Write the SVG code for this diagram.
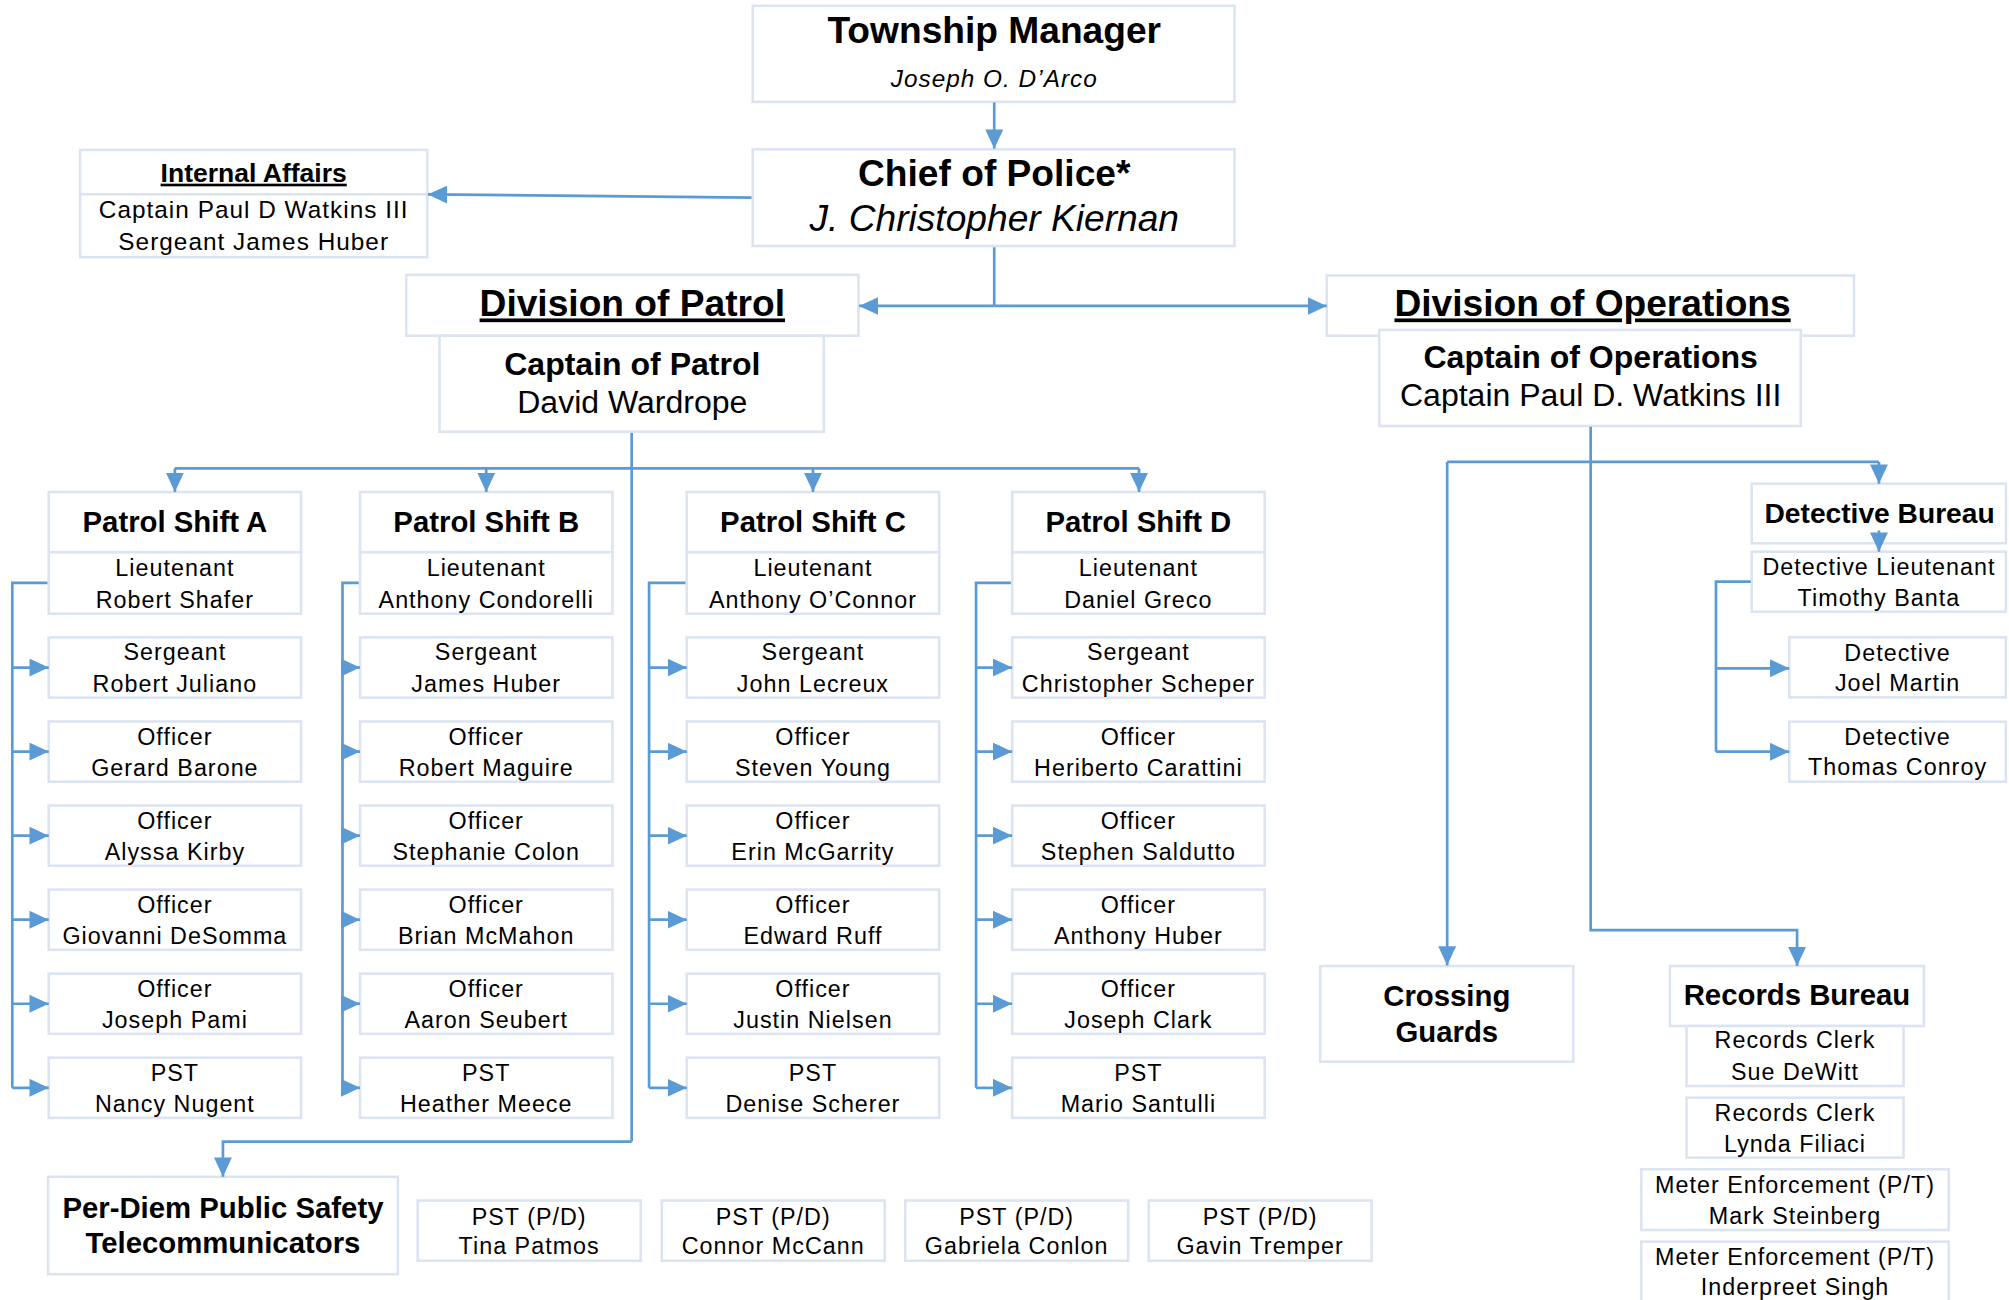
<svg xmlns="http://www.w3.org/2000/svg" width="2009" height="1300" viewBox="0 0 2009 1300">
<style>
.box{fill:#fff;stroke:#dce4f1;stroke-width:2}
.ln{fill:none;stroke:#5b9bd5;stroke-width:2.1}
.ar{marker-end:url(#ah)}
text{font-family:"Liberation Sans",Arial,sans-serif;fill:#000;text-anchor:middle}
.r{font-size:18.2px;letter-spacing:0.8px}
.r19{font-size:19px;letter-spacing:0.8px}
.r25{font-size:25px}
.b22{font-size:22.9px;font-weight:bold}
.b22s{font-size:22px;font-weight:bold}
.b25{font-size:25px;font-weight:bold}
.b29{font-size:29px;font-weight:bold}
.i19{font-size:19px;font-style:italic;letter-spacing:0.8px}
.i29{font-size:29px;font-style:italic}
.u{text-decoration:underline}
.b21{font-size:20.7px;font-weight:bold}
</style>
<defs>
<marker id="ah" markerUnits="userSpaceOnUse" markerWidth="15" markerHeight="14" viewBox="0 0 15 14" refX="15" refY="7" orient="auto">
<path d="M0,0 L15,7 L0,14 z" fill="#5b9bd5"/>
</marker>
</defs>
<rect x="0" y="0" width="2009" height="1300" fill="#fff"/>
<g transform="scale(1.28125)">

<g id="township-manager">
<rect class="box" x="587.5" y="4.5" width="376" height="75"/>
<text class="b29" x="776" y="33.3">Township Manager</text>
<text class="i19" x="776" y="68.2">Joseph O. D’Arco</text>
</g>
<g id="chief">
<rect class="box" x="587.5" y="116.5" width="376" height="75.5"/>
<text class="b29" x="776" y="145">Chief of Police*</text>
<text class="i29" x="776" y="180">J. Christopher Kiernan</text>
</g>
<g id="internal-affairs">
<rect class="box" x="62.5" y="117" width="271" height="34.7"/>
<rect class="box" x="62.5" y="151.7" width="271" height="49"/>
<text class="b21 u" x="198" y="141.8">Internal Affairs</text>
<text class="r19" x="198" y="170.4">Captain Paul D Watkins III</text>
<text class="r19" x="198" y="195.1">Sergeant James Huber</text>
</g>
<g id="division-patrol">
<rect class="box" x="317" y="214.5" width="353" height="47.5"/>
<text class="b29 u" x="493.5" y="247">Division of Patrol</text>
</g>
<g id="captain-patrol">
<rect class="box" x="343" y="262" width="300" height="75"/>
<text class="b25" x="493.5" y="292.7">Captain of Patrol</text>
<text class="r25" x="493.5" y="322.6">David Wardrope</text>
</g>
<g id="division-operations">
<rect class="box" x="1035.5" y="215" width="411.5" height="47"/>
<text class="b29 u" x="1243" y="247">Division of Operations</text>
</g>
<g id="captain-operations">
<rect class="box" x="1076.5" y="257.5" width="329" height="75"/>
<text class="b25" x="1241.5" y="287.5">Captain of Operations</text>
<text class="r25" x="1241.5" y="316.9">Captain Paul D. Watkins III</text>
</g>

<g id="shift-a">
<rect class="box" x="38" y="384" width="197" height="47"/>
<text class="b22" x="136.5" y="415">Patrol Shift A</text>
<rect class="box" x="38" y="431" width="197" height="48"/>
<text class="r" x="136.5" y="449.3">Lieutenant</text><text class="r" x="136.5" y="474.8">Robert Shafer</text>
<rect class="box" x="38" y="497.5" width="197" height="47"/>
<text class="r" x="136.5" y="515.5">Sergeant</text><text class="r" x="136.5" y="540">Robert Juliano</text>
<rect class="box" x="38" y="563.1" width="197" height="47"/>
<text class="r" x="136.5" y="581.1">Officer</text><text class="r" x="136.5" y="605.6">Gerard Barone</text>
<rect class="box" x="38" y="628.7" width="197" height="47"/>
<text class="r" x="136.5" y="646.7">Officer</text><text class="r" x="136.5" y="671.2">Alyssa Kirby</text>
<rect class="box" x="38" y="694.3" width="197" height="47"/>
<text class="r" x="136.5" y="712.3">Officer</text><text class="r" x="136.5" y="736.8">Giovanni DeSomma</text>
<rect class="box" x="38" y="759.9" width="197" height="47"/>
<text class="r" x="136.5" y="777.9">Officer</text><text class="r" x="136.5" y="802.4">Joseph Pami</text>
<rect class="box" x="38" y="825.5" width="197" height="47"/>
<text class="r" x="136.5" y="843.5">PST</text><text class="r" x="136.5" y="868">Nancy Nugent</text>
</g>

<g id="shift-b">
<rect class="box" x="281" y="384" width="197" height="47"/>
<text class="b22" x="379.5" y="415">Patrol Shift B</text>
<rect class="box" x="281" y="431" width="197" height="48"/>
<text class="r" x="379.5" y="449.3">Lieutenant</text><text class="r" x="379.5" y="474.8">Anthony Condorelli</text>
<rect class="box" x="281" y="497.5" width="197" height="47"/>
<text class="r" x="379.5" y="515.5">Sergeant</text><text class="r" x="379.5" y="540">James Huber</text>
<rect class="box" x="281" y="563.1" width="197" height="47"/>
<text class="r" x="379.5" y="581.1">Officer</text><text class="r" x="379.5" y="605.6">Robert Maguire</text>
<rect class="box" x="281" y="628.7" width="197" height="47"/>
<text class="r" x="379.5" y="646.7">Officer</text><text class="r" x="379.5" y="671.2">Stephanie Colon</text>
<rect class="box" x="281" y="694.3" width="197" height="47"/>
<text class="r" x="379.5" y="712.3">Officer</text><text class="r" x="379.5" y="736.8">Brian McMahon</text>
<rect class="box" x="281" y="759.9" width="197" height="47"/>
<text class="r" x="379.5" y="777.9">Officer</text><text class="r" x="379.5" y="802.4">Aaron Seubert</text>
<rect class="box" x="281" y="825.5" width="197" height="47"/>
<text class="r" x="379.5" y="843.5">PST</text><text class="r" x="379.5" y="868">Heather Meece</text>
</g>

<g id="shift-c">
<rect class="box" x="536" y="384" width="197" height="47"/>
<text class="b22" x="634.5" y="415">Patrol Shift C</text>
<rect class="box" x="536" y="431" width="197" height="48"/>
<text class="r" x="634.5" y="449.3">Lieutenant</text><text class="r" x="634.5" y="474.8">Anthony O’Connor</text>
<rect class="box" x="536" y="497.5" width="197" height="47"/>
<text class="r" x="634.5" y="515.5">Sergeant</text><text class="r" x="634.5" y="540">John Lecreux</text>
<rect class="box" x="536" y="563.1" width="197" height="47"/>
<text class="r" x="634.5" y="581.1">Officer</text><text class="r" x="634.5" y="605.6">Steven Young</text>
<rect class="box" x="536" y="628.7" width="197" height="47"/>
<text class="r" x="634.5" y="646.7">Officer</text><text class="r" x="634.5" y="671.2">Erin McGarrity</text>
<rect class="box" x="536" y="694.3" width="197" height="47"/>
<text class="r" x="634.5" y="712.3">Officer</text><text class="r" x="634.5" y="736.8">Edward Ruff</text>
<rect class="box" x="536" y="759.9" width="197" height="47"/>
<text class="r" x="634.5" y="777.9">Officer</text><text class="r" x="634.5" y="802.4">Justin Nielsen</text>
<rect class="box" x="536" y="825.5" width="197" height="47"/>
<text class="r" x="634.5" y="843.5">PST</text><text class="r" x="634.5" y="868">Denise Scherer</text>
</g>

<g id="shift-d">
<rect class="box" x="790" y="384" width="197" height="47"/>
<text class="b22" x="888.5" y="415">Patrol Shift D</text>
<rect class="box" x="790" y="431" width="197" height="48"/>
<text class="r" x="888.5" y="449.3">Lieutenant</text><text class="r" x="888.5" y="474.8">Daniel Greco</text>
<rect class="box" x="790" y="497.5" width="197" height="47"/>
<text class="r" x="888.5" y="515.5">Sergeant</text><text class="r" x="888.5" y="540">Christopher Scheper</text>
<rect class="box" x="790" y="563.1" width="197" height="47"/>
<text class="r" x="888.5" y="581.1">Officer</text><text class="r" x="888.5" y="605.6">Heriberto Carattini</text>
<rect class="box" x="790" y="628.7" width="197" height="47"/>
<text class="r" x="888.5" y="646.7">Officer</text><text class="r" x="888.5" y="671.2">Stephen Saldutto</text>
<rect class="box" x="790" y="694.3" width="197" height="47"/>
<text class="r" x="888.5" y="712.3">Officer</text><text class="r" x="888.5" y="736.8">Anthony Huber</text>
<rect class="box" x="790" y="759.9" width="197" height="47"/>
<text class="r" x="888.5" y="777.9">Officer</text><text class="r" x="888.5" y="802.4">Joseph Clark</text>
<rect class="box" x="790" y="825.5" width="197" height="47"/>
<text class="r" x="888.5" y="843.5">PST</text><text class="r" x="888.5" y="868">Mario Santulli</text>
</g>

<g id="per-diem">
<rect class="box" x="37.5" y="918.5" width="273" height="76"/>
<text class="b22" x="174" y="950.7">Per-Diem Public Safety</text>
<text class="b22" x="174" y="978">Telecommunicators</text>
</g>
<g id="pd-patmos">
<rect class="box" x="326" y="937" width="174" height="47"/>
<text class="r" x="413" y="956">PST (P/D)</text><text class="r" x="413" y="978.5">Tina Patmos</text>
</g>
<g id="pd-mccann">
<rect class="box" x="516.5" y="937" width="174" height="47"/>
<text class="r" x="603.5" y="956">PST (P/D)</text><text class="r" x="603.5" y="978.5">Connor McCann</text>
</g>
<g id="pd-conlon">
<rect class="box" x="706.5" y="937" width="174" height="47"/>
<text class="r" x="793.5" y="956">PST (P/D)</text><text class="r" x="793.5" y="978.5">Gabriela Conlon</text>
</g>
<g id="pd-tremper">
<rect class="box" x="896.5" y="937" width="174" height="47"/>
<text class="r" x="983.5" y="956">PST (P/D)</text><text class="r" x="983.5" y="978.5">Gavin Tremper</text>
</g>

<g id="detective-bureau">
<rect class="box" x="1367.2" y="377.5" width="198.4" height="46.5"/>
<text class="b22s" x="1467" y="408">Detective Bureau</text>
</g>
<g id="detective-lieutenant">
<rect class="box" x="1367.2" y="430.6" width="198.4" height="46.8"/>
<text class="r" x="1466.5" y="448.8">Detective Lieutenant</text>
<text class="r" x="1466.5" y="472.7">Timothy Banta</text>
</g>
<g id="detective-martin">
<rect class="box" x="1396.5" y="497.4" width="169" height="46.9"/>
<text class="r" x="1481" y="515.6">Detective</text>
<text class="r" x="1481" y="539.1">Joel Martin</text>
</g>
<g id="detective-conroy">
<rect class="box" x="1396.5" y="563.3" width="169" height="46.8"/>
<text class="r" x="1481" y="581.5">Detective</text>
<text class="r" x="1481" y="604.9">Thomas Conroy</text>
</g>

<g id="crossing-guards">
<rect class="box" x="1030.4" y="754" width="197.6" height="74.6"/>
<text class="b22" x="1129.2" y="785.2">Crossing</text>
<text class="b22" x="1129.2" y="813">Guards</text>
</g>
<g id="records-bureau">
<rect class="box" x="1303.3" y="754" width="198.3" height="46.8"/>
<text class="b22" x="1402.5" y="784.4">Records Bureau</text>
</g>
<g id="records-dewitt">
<rect class="box" x="1316.3" y="800.8" width="169.4" height="46.8"/>
<text class="r" x="1401" y="818.2">Records Clerk</text>
<text class="r" x="1401" y="843.2">Sue DeWitt</text>
</g>
<g id="records-filiaci">
<rect class="box" x="1316.3" y="856.7" width="169.4" height="46.8"/>
<text class="r" x="1401" y="875">Records Clerk</text>
<text class="r" x="1401" y="899">Lynda Filiaci</text>
</g>
<g id="meter-steinberg">
<rect class="box" x="1281" y="912.6" width="240" height="47.4"/>
<text class="r" x="1401" y="931.4">Meter Enforcement (P/T)</text>
<text class="r" x="1401" y="955.3">Mark Steinberg</text>
</g>
<g id="meter-singh">
<rect class="box" x="1281" y="969.1" width="240" height="60"/>
<text class="r" x="1401" y="987.3">Meter Enforcement (P/T)</text>
<text class="r" x="1401" y="1010.7">Inderpreet Singh</text>
</g>

<g id="connectors">
<line class="ln ar" x1="776" y1="80" x2="776" y2="116"/>
<line class="ln ar" x1="586.5" y1="154.3" x2="334" y2="151.7"/>
<line class="ln" x1="776" y1="193" x2="776" y2="238.8"/>
<line class="ln ar" x1="776" y1="238.8" x2="670.5" y2="238.8"/>
<line class="ln ar" x1="776" y1="238.8" x2="1035.5" y2="238.8"/>
<line class="ln" x1="493" y1="338" x2="493" y2="891"/>
<polyline class="ln ar" points="493,891 174,891 174,918.4"/>
<line class="ln" x1="136.5" y1="365.5" x2="889" y2="365.5"/>
<line class="ln ar" x1="136.5" y1="365.5" x2="136.5" y2="384"/>
<line class="ln ar" x1="379.5" y1="365.5" x2="379.5" y2="384"/>
<line class="ln ar" x1="634.5" y1="365.5" x2="634.5" y2="384"/>
<line class="ln ar" x1="889" y1="365.5" x2="889" y2="384"/>
<polyline class="ln" points="37,455 9.6,455 9.6,849"/>
<line class="ln ar" x1="9.6" y1="521" x2="38" y2="521"/>
<line class="ln ar" x1="9.6" y1="586.6" x2="38" y2="586.6"/>
<line class="ln ar" x1="9.6" y1="652.2" x2="38" y2="652.2"/>
<line class="ln ar" x1="9.6" y1="717.8" x2="38" y2="717.8"/>
<line class="ln ar" x1="9.6" y1="783.4" x2="38" y2="783.4"/>
<line class="ln ar" x1="9.6" y1="849" x2="38" y2="849"/>
<polyline class="ln" points="280,455 267.3,455 267.3,849"/>
<line class="ln ar" x1="267.3" y1="521" x2="281" y2="521"/>
<line class="ln ar" x1="267.3" y1="586.6" x2="281" y2="586.6"/>
<line class="ln ar" x1="267.3" y1="652.2" x2="281" y2="652.2"/>
<line class="ln ar" x1="267.3" y1="717.8" x2="281" y2="717.8"/>
<line class="ln ar" x1="267.3" y1="783.4" x2="281" y2="783.4"/>
<line class="ln ar" x1="267.3" y1="849" x2="281" y2="849"/>
<polyline class="ln" points="535,455 506.6,455 506.6,849"/>
<line class="ln ar" x1="506.6" y1="521" x2="536" y2="521"/>
<line class="ln ar" x1="506.6" y1="586.6" x2="536" y2="586.6"/>
<line class="ln ar" x1="506.6" y1="652.2" x2="536" y2="652.2"/>
<line class="ln ar" x1="506.6" y1="717.8" x2="536" y2="717.8"/>
<line class="ln ar" x1="506.6" y1="783.4" x2="536" y2="783.4"/>
<line class="ln ar" x1="506.6" y1="849" x2="536" y2="849"/>
<polyline class="ln" points="789,455 761.8,455 761.8,849"/>
<line class="ln ar" x1="761.8" y1="521" x2="790" y2="521"/>
<line class="ln ar" x1="761.8" y1="586.6" x2="790" y2="586.6"/>
<line class="ln ar" x1="761.8" y1="652.2" x2="790" y2="652.2"/>
<line class="ln ar" x1="761.8" y1="717.8" x2="790" y2="717.8"/>
<line class="ln ar" x1="761.8" y1="783.4" x2="790" y2="783.4"/>
<line class="ln ar" x1="761.8" y1="849" x2="790" y2="849"/>
<polyline class="ln ar" points="1241.5,333 1241.5,726 1402.6,726 1402.6,754"/>
<line class="ln" x1="1129.5" y1="360.5" x2="1466.5" y2="360.5"/>
<line class="ln ar" x1="1129.5" y1="360.5" x2="1129.5" y2="753.5"/>
<line class="ln ar" x1="1466.5" y1="360.5" x2="1466.5" y2="377.5"/>
<line class="ln ar" x1="1466.5" y1="414" x2="1466.5" y2="430.6"/>
<polyline class="ln" points="1366.5,454 1339.3,454 1339.3,586.7"/>
<line class="ln ar" x1="1339.3" y1="521.6" x2="1396.5" y2="521.6"/>
<line class="ln ar" x1="1339.3" y1="586.7" x2="1396.5" y2="586.7"/>
</g>
</g>
</svg>
